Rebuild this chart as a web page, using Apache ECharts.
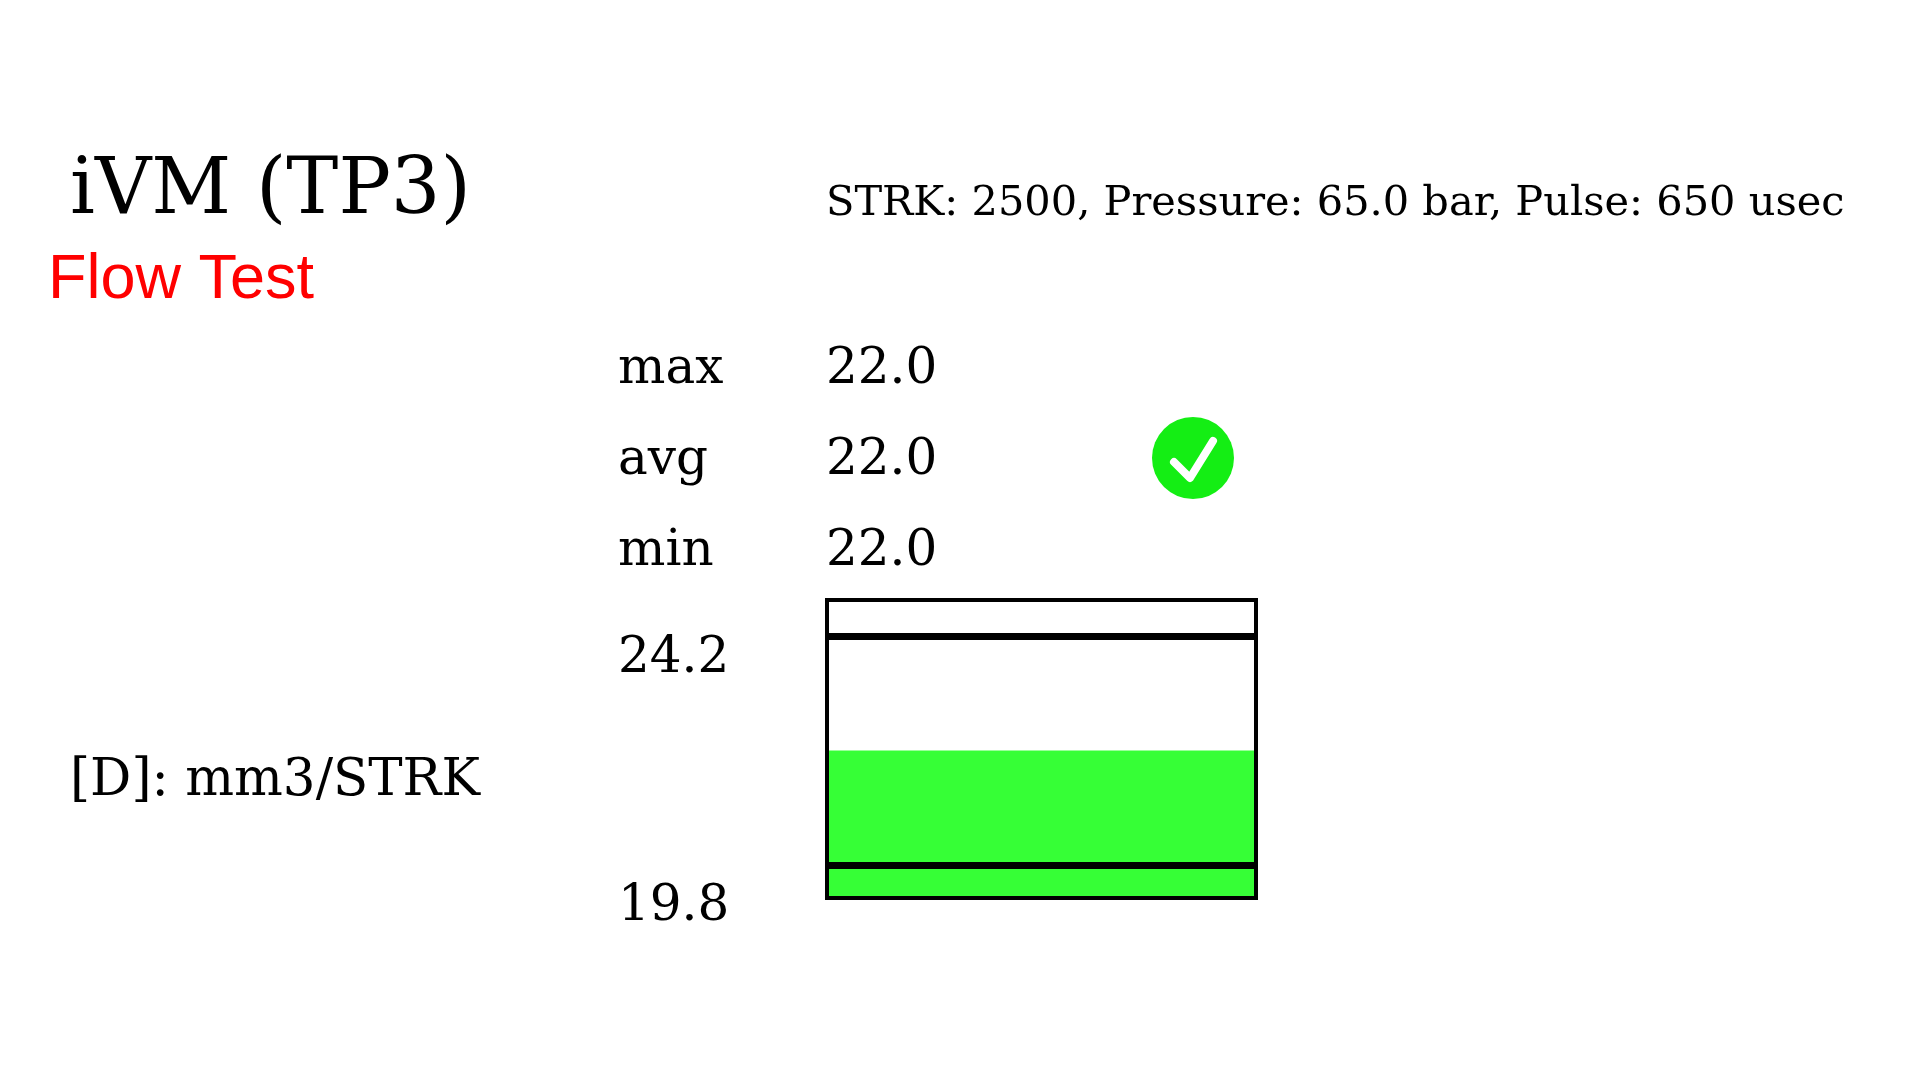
<!DOCTYPE html>
<html lang="en">
<head>
    <meta charset="utf-8">
    <title>iVM (TP3) Flow Test</title>
    <script src="https://cdn.jsdelivr.net/npm/echarts@6/dist/echarts.min.js"></script>
    <style type="text/css">
        html, body {
            width: 100%;
            height: 100%;
            margin: 0px;
            padding: 0px;
            background: #ffffff;
        }

        #main {
            width: 1920px;
            height: 1080px;
        }
    </style>
</head>
<body>
<div id="main"></div>
<script>
    // chart data
    var titleText = 'iVM (TP3)';
    var subTitleText = 'Flow Test';
    var conditionText = 'STRK: 2500, Pressure: 65.0 bar, Pulse: 650 usec';
    var unitText = '[D]: mm3/STRK';
    var statLabels = ['max', 'avg', 'min'];
    var statValues = [22.0, 22.0, 22.0];
    var limitValues = [24.2, 19.8];      // upper, lower tolerance
    var barCategories = ['D'];
    var barValues = [22.0];
    var axisRange = [19.17, 24.89];

    var serif = 'DejaVu Serif';
    var myChart = echarts.init(document.getElementById('main'));

    var texts = [];
    function addText(str, x, y, size, color, family) {
        texts.push({
            type: 'text',
            x: x,
            y: y,
            style: {
                text: str,
                fontSize: size,
                fontFamily: family || serif,
                fill: color || '#000000',
                align: 'left',
                verticalAlign: 'middle'
            }
        });
    }

    addText(titleText, 70, 193, 78);
    addText(subTitleText, 48, 281, 63, '#ff0000', 'Liberation Sans');
    addText(conditionText, 826, 204, 41.5);
    statLabels.forEach(function (lab, i) {
        addText(lab, 618, 370 + i * 91, 50);
        addText(statValues[i].toFixed(1), 826, 370 + i * 91, 50);
    });
    addText(limitValues[0].toFixed(1), 618, 659, 50);
    addText(limitValues[1].toFixed(1), 618, 907, 50);
    addText(unitText, 70, 782, 51.5);

    // ok indicator
    texts.push({
        type: 'group',
        x: 1193,
        y: 458,
        children: [
            {type: 'circle', shape: {cx: 0, cy: 0, r: 41}, style: {fill: '#14ee14'}},
            {
                type: 'polyline',
                shape: {points: [[-19, 4], [-3, 20], [20, -17]]},
                style: {stroke: '#ffffff', lineWidth: 8, lineCap: 'round', lineJoin: 'round', fill: null}
            }
        ]
    });

    myChart.setOption({
        animation: false,
        backgroundColor: '#ffffff',
        grid: {
            left: 827,
            top: 600,
            width: 429,
            height: 298,
            show: true,
            z: 10,
            backgroundColor: 'transparent',
            borderColor: '#000000',
            borderWidth: 4
        },
        xAxis: {
            type: 'category',
            data: barCategories,
            show: false
        },
        yAxis: {
            type: 'value',
            min: axisRange[0],
            max: axisRange[1],
            show: false
        },
        series: [
            {
                type: 'bar',
                data: barValues,
                barWidth: '100%',
                itemStyle: {color: '#36ff36'},
                markLine: {
                    silent: true,
                    symbol: 'none',
                    label: {show: false},
                    lineStyle: {color: '#000000', width: 7, type: 'solid'},
                    data: limitValues.map(function (v) { return {yAxis: v}; })
                }
            }
        ],
        graphic: texts
    });
</script>
</body>
</html>
